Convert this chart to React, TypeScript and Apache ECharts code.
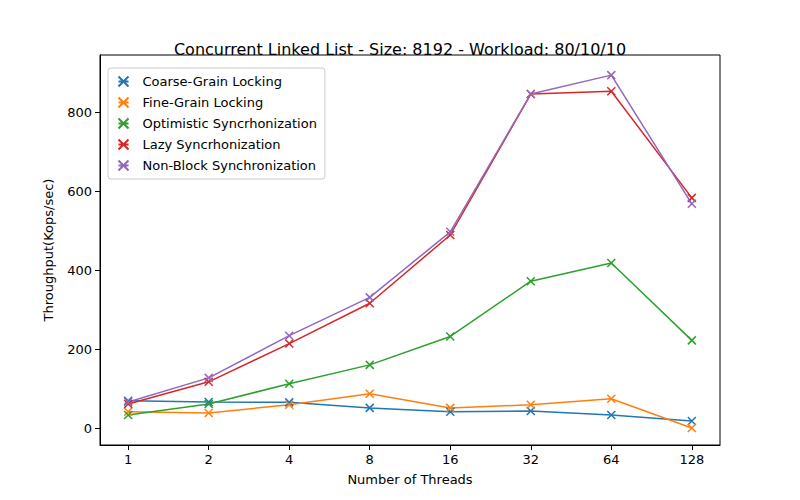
import React, { useEffect, useRef } from "react";
import * as echarts from "echarts";

const threads = ["1", "2", "4", "8", "16", "32", "64", "128"];
const coarse = [69, 66, 65, 51, 41, 43, 33, 18];
const fine = [41, 38, 59, 87, 51, 59, 74, 0];
const optimistic = [33, 61, 112, 160, 232, 372, 418, 222];
const lazy = [61, 117, 214, 316, 489, 846, 853, 583];
const nonBlock = [66, 127, 234, 331, 497, 846, 894, 568];
const names = ["Coarse-Grain Locking", "Fine-Grain Locking", "Optimistic Syncrhonization", "Lazy Syncrhonization", "Non-Block Synchronization"];
const colors = ["#1f77b4", "#ff7f0e", "#2ca02c", "#d62728", "#9467bd"];
const yTicks = [0, 200, 400, 600, 800];

const X = "path://M0,0L10,10M10,0L0,10";

export default function App() {
  const ref = useRef<HTMLDivElement>(null);
  useEffect(() => {
    const chart = echarts.init(ref.current!, null, { renderer: "svg" });
    const all = [coarse, fine, optimistic, lazy, nonBlock];
    const font = "DejaVu Sans";
    chart.setOption({
      animation: false,
      textStyle: { fontFamily: font },
      title: { text: "Concurrent Linked List - Size: 8192 - Workload: 80/10/10", left: "center", top: 36, textStyle: { fontSize: 16, fontWeight: "normal", color: "#000", fontFamily: font } },
      legend: {
        orient: "vertical", left: 108, top: 68, padding: [6, 8], itemGap: 6,
        borderColor: "#ccc", borderWidth: 1, borderRadius: 3, backgroundColor: "#fff",
        itemWidth: 28, itemHeight: 10, textStyle: { fontSize: 13, color: "#000", fontFamily: font },
        data: names.map((n) => ({ name: n, icon: "path://M0,5L10,5M0,0L10,10M10,0L0,10" })),
      },
      grid: { left: 100, right: 80, top: 55, bottom: 55, show: true, borderColor: "#000", borderWidth: 1, backgroundColor: "transparent" },
      xAxis: {
        type: "value", min: -0.35, max: 7.35,
        name: "Number of Threads", nameLocation: "middle", nameGap: 28, nameTextStyle: { fontSize: 13, color: "#000" },
        axisLine: { show: true, onZero: false, lineStyle: { color: "#000" } },
        axisTick: { show: true, customValues: [0, 1, 2, 3, 4, 5, 6, 7], lineStyle: { color: "#000" } },
        axisLabel: { customValues: [0, 1, 2, 3, 4, 5, 6, 7], formatter: (v: number) => threads[Math.round(v)], color: "#000", fontSize: 13 },
        splitLine: { show: false },
      },
      yAxis: {
        type: "value", min: -43, max: 945,
        name: "Throughput(Kops/sec)", nameLocation: "middle", nameGap: 45, nameTextStyle: { fontSize: 13, color: "#000" },
        axisLine: { show: true, onZero: false, lineStyle: { color: "#000" } },
        axisTick: { show: true, customValues: yTicks, lineStyle: { color: "#000" } },
        axisLabel: { customValues: yTicks, color: "#000", fontSize: 13 },
        splitLine: { show: false },
      },
      series: all.map((d, i) => ({
        name: names[i], type: "line", color: colors[i],
        data: d.map((v, j) => [j, v]),
        symbol: X, symbolSize: 8, showSymbol: true,
        lineStyle: { width: 1.5, color: colors[i] },
        itemStyle: { color: "none", borderColor: colors[i], borderWidth: 1.5 },
      })),
    });
    return () => chart.dispose();
  }, []);
  return <div ref={ref} style={{ width: 800, height: 500, margin: -8 }} />;
}
